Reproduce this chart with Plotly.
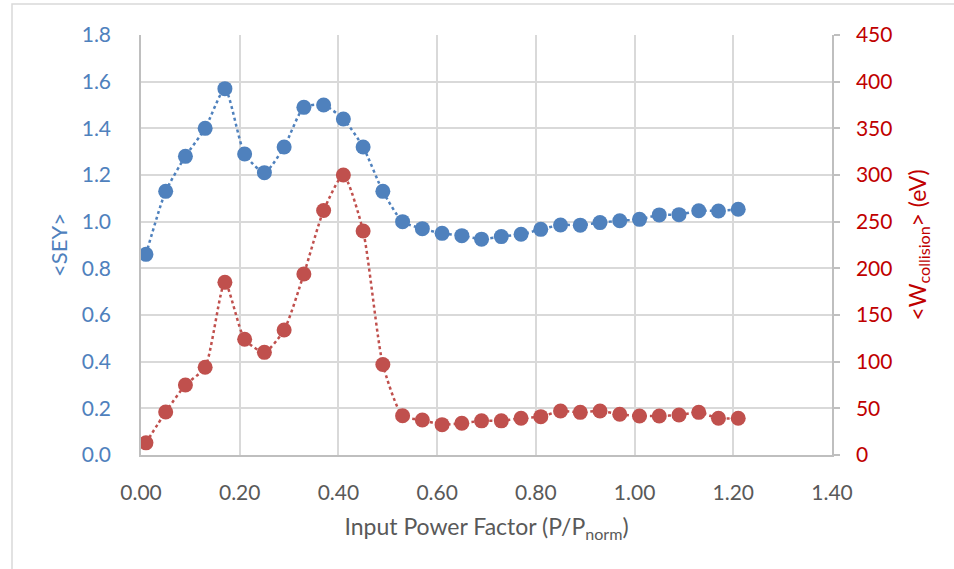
import plotly.graph_objects as go

x_vals = [round(0.01 + 0.04 * i, 2) for i in range(31)]
sey = [0.86, 1.13, 1.28, 1.40, 1.57, 1.29, 1.21, 1.32, 1.49, 1.50,
       1.44, 1.32, 1.13, 1.00, 0.97, 0.95, 0.94, 0.925, 0.936, 0.946,
       0.967, 0.986, 0.985, 0.996, 1.004, 1.01, 1.029, 1.03, 1.047, 1.046, 1.053]
w_coll = [13, 46, 75, 94, 185, 124, 110, 134, 194, 262,
          300, 240, 97, 42, 37.5, 32.5, 34, 36.6, 36.6, 39.3,
          41.1, 47.1, 45.7, 47.1, 43.6, 41.8, 41.8, 42.9, 45.7, 39.3, 39.3]

blue = "#4F81BD"
red = "#C0504D"
font_family = "Lato, 'Open Sans', sans-serif"
tick_size = 21
title_size = 23

fig = go.Figure()
fig.add_trace(go.Scatter(
    x=x_vals, y=sey, mode="lines+markers", name="<SEY>",
    line=dict(color=blue, width=2.5, dash="dot", shape="spline", smoothing=0.6),
    marker=dict(color=blue, size=15),
))
fig.add_trace(go.Scatter(
    x=x_vals, y=w_coll, mode="lines+markers", name="<W>", yaxis="y2",
    line=dict(color=red, width=2.5, dash="dot", shape="spline", smoothing=0.6),
    marker=dict(color=red, size=15),
))

fig.update_layout(
    width=954, height=569,
    margin=dict(l=141, r=122, t=35, b=114),
    paper_bgcolor="white", plot_bgcolor="white",
    showlegend=False,
    font=dict(family=font_family, size=tick_size, color="#595959"),
    xaxis=dict(
        range=[0, 1.4], dtick=0.2, tick0=0, tickformat=".2f",
        showgrid=True, gridcolor="#D9D9D9", gridwidth=1.5,
        showline=True, linecolor="#BFBFBF", linewidth=1.5,
        ticks="", zeroline=False, ticklabelstandoff=18,
        title=dict(text="Input Power Factor (P/P<sub>norm</sub>)",
                   font=dict(size=title_size, color="#595959"), standoff=16),
        tickfont=dict(size=tick_size, color="#595959"),
    ),
    yaxis=dict(
        range=[0, 1.8], dtick=0.2, tick0=0, tickformat=".1f",
        showgrid=True, gridcolor="#D9D9D9", gridwidth=1.5,
        showline=True, linecolor="#BFBFBF", linewidth=1.5,
        ticks="", zeroline=False, ticklabelstandoff=24,
        title=dict(text="&lt;SEY&gt;", font=dict(size=22, color=blue), standoff=8),
        tickfont=dict(size=tick_size, color=blue),
    ),
    yaxis2=dict(
        range=[0, 450], dtick=50, tick0=0,
        overlaying="y", side="right",
        showgrid=False, showline=True, linecolor="#BFBFBF", linewidth=1.5,
        ticks="outside", ticklen=6, tickcolor="#BFBFBF", tickwidth=1.5,
        zeroline=False, ticklabelstandoff=12,
        title=dict(text="&lt;W<sub>collision</sub>&gt; (eV)",
                   font=dict(size=title_size, color="#C00000"), standoff=18),
        tickfont=dict(size=tick_size, color="#C00000"),
    ),
    shapes=[
        dict(type="rect", xref="paper", yref="paper",
             x0=-129 / 691, x1=1.5, y0=-1.0, y1=1 + 31 / 420,
             line=dict(color="#D9D9D9", width=1.5), layer="below"),
    ],
)

fig.write_html("out.html")
